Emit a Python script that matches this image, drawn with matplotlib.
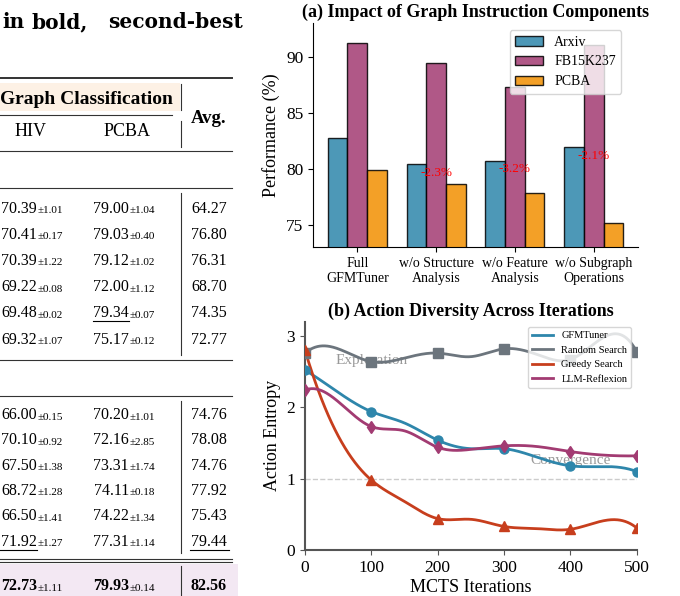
import numpy as np
import matplotlib
matplotlib.use('Agg')
import matplotlib.pyplot as plt
from matplotlib.lines import Line2D
from matplotlib.patches import Rectangle

plt.rcParams['font.family'] = ['Liberation Serif', 'DejaVu Serif']

# ---- (a) ablation of graph instruction components ----
components = ['Full\nGFMTuner', 'w/o Structure\nAnalysis',
              'w/o Feature\nAnalysis', 'w/o Subgraph\nOperations']
arxiv = [82.7, 80.4, 80.7, 81.9]
fb15k237 = [91.2, 89.4, 87.3, 91.0]
pcba = [79.9, 78.6, 77.8, 75.1]
drops = ['', '-2.3%', '-3.2%', '-2.1%']

# ---- (b) action entropy over MCTS iterations (markers every 100) ----
iters = [0, 50, 100, 150, 200, 250, 300, 350, 400, 450, 500]
gfmtuner = [2.52, 2.21, 1.94, 1.78, 1.54, 1.42, 1.42, 1.30, 1.18, 1.17, 1.10]
random_search = [2.76, 2.82, 2.64, 2.69, 2.76, 2.71, 2.82, 2.74, 2.67, 2.98, 2.78]
greedy = [2.80, 1.60, 0.98, 0.68, 0.44, 0.43, 0.33, 0.30, 0.29, 0.41, 0.31]
llm_reflexion = [2.24, 2.08, 1.73, 1.67, 1.44, 1.41, 1.46, 1.45, 1.38, 1.33, 1.32]

# ---- table fragment on the left ----
hiv_1 = [('70.39', '±1.01'), ('70.41', '±0.17'), ('70.39', '±1.22'),
         ('69.22', '±0.08'), ('69.48', '±0.02'), ('69.32', '±1.07')]
pcba_1 = [('79.00', '±1.04'), ('79.03', '±0.40'), ('79.12', '±1.02'),
          ('72.00', '±1.12'), ('79.34', '±0.07'), ('75.17', '±0.12')]
avg_1 = ['64.27', '76.80', '76.31', '68.70', '74.35', '72.77']
hiv_2 = [('66.00', '±0.15'), ('70.10', '±0.92'), ('67.50', '±1.38'),
         ('68.72', '±1.28'), ('66.50', '±1.41'), ('71.92', '±1.27')]
pcba_2 = [('70.20', '±1.01'), ('72.16', '±2.85'), ('73.31', '±1.74'),
          ('74.11', '±0.18'), ('74.22', '±1.34'), ('77.31', '±1.14')]
avg_2 = ['74.76', '78.08', '74.76', '77.92', '75.43', '79.44']
ours = [('72.73', '±1.11'), ('79.93', '±0.14'), '82.56']

C_BLUE, C_MAG, C_ORG, C_RED, C_GRAY = '#2E86AB', '#A23B72', '#F18F01', '#C73E1D', '#6C757D'

W, H = 680, 596
fig = plt.figure(figsize=(6.8, 5.96), dpi=100)


def smooth(x, y, n=400):
    # not-a-knot cubic spline through the points (equal spacing)
    x = np.asarray(x, float)
    y = np.asarray(y, float)
    m = len(x)
    h = x[1] - x[0]
    A = np.zeros((m, m))
    b = np.zeros(m)
    A[0, :3] = [1, -2, 1]
    A[-1, -3:] = [1, -2, 1]
    for i in range(1, m - 1):
        A[i, i - 1:i + 2] = [1, 4, 1]
        b[i] = 6 * (y[i - 1] - 2 * y[i] + y[i + 1]) / h ** 2
    M = np.linalg.solve(A, b)
    xs = np.linspace(x[0], x[-1], n)
    k = np.clip(((xs - x[0]) // h).astype(int), 0, m - 2)
    x0 = x[k]
    x1 = x0 + h
    ys = (M[k] * (x1 - xs) ** 3 + M[k + 1] * (xs - x0) ** 3) / (6 * h) \
        + (y[k] / h - M[k] * h / 6) * (x1 - xs) \
        + (y[k + 1] / h - M[k + 1] * h / 6) * (xs - x0)
    return xs, ys


# ---------------- table ----------------
def hline(y, x0, x1, lw=0.8, color='#333333'):
    fig.add_artist(Line2D([x0 / W, x1 / W], [1 - y / H, 1 - y / H], lw=lw, color=color))


def vline(x, y0, y1, lw=0.8, color='#333333'):
    fig.add_artist(Line2D([x / W, x / W], [1 - y0 / H, 1 - y1 / H], lw=lw, color=color))


def box(x0, y0, x1, y1, color):
    fig.add_artist(Rectangle((x0 / W, 1 - y1 / H), (x1 - x0) / W, (y1 - y0) / H,
                             facecolor=color, edgecolor='none', zorder=0))


def cell(xc, y, pair, bold=False):
    main, pm = pair
    fw = 'bold' if bold else 'normal'
    fig.text(xc / W, 1 - y / H, main, ha='right', va='center', fontsize=11.5, fontweight=fw)
    fig.text((xc + 0.5) / W, 1 - (y + 2) / H, pm, ha='left', va='center', fontsize=8)


for x, word in [(2, 'in'), (32, 'bold,'), (108, 'second-best')]:
    fig.text(x / W, 1 - 28 / H, word, ha='left', va='baseline', fontsize=14.5,
             fontweight='bold', family='DejaVu Serif')

box(0, 83, 180, 110.5, '#fdf1e5')
box(0, 564, 238, 596, '#f3e8f3')
hline(78, 0, 232, lw=1.4)
hline(114.5, 0, 172)
hline(151, 0, 232)
hline(187.5, 0, 232)
hline(360, 0, 232)
hline(396, 0, 232)
hline(558.5, 0, 232)
hline(561.5, 0, 232)
for y0, y1 in [(84, 110), (121, 147), (193, 355), (401, 553), (566, 596)]:
    vline(181.3, y0, y1)

fig.text(173 / W, 1 - 103.5 / H, 'Graph Classification', ha='right', va='baseline',
         fontsize=14, fontweight='bold')
fig.text(209 / W, 1 - 123 / H, 'Avg.', ha='center', va='baseline', fontsize=13.5, fontweight='bold')
fig.text(31 / W, 1 - 136 / H, 'HIV', ha='center', va='baseline', fontsize=13)
fig.text(127 / W, 1 - 136 / H, 'PCBA', ha='center', va='baseline', fontsize=13)

rows_1 = 208.5 + 26.2 * np.arange(6)
rows_2 = 415 + 25.3 * np.arange(6)
for y, a, b, c in zip(rows_1, hiv_1, pcba_1, avg_1):
    cell(37, y, a)
    cell(129, y, b)
    fig.text(209 / W, 1 - y / H, c, ha='center', va='center', fontsize=11.5)
for y, a, b, c in zip(rows_2, hiv_2, pcba_2, avg_2):
    cell(37, y, a)
    cell(129, y, b)
    fig.text(209 / W, 1 - y / H, c, ha='center', va='center', fontsize=11.5)
cell(37, 586.5, ours[0], bold=True)
cell(129, 586.5, ours[1], bold=True)
fig.text(209 / W, 1 - 586.5 / H, ours[2], ha='center', va='center', fontsize=11.5, fontweight='bold')
# second-best underlines
hline(rows_1[4] + 8, 93, 129, lw=0.8, color='black')
hline(rows_2[5] + 8, -1, 37, lw=0.8, color='black')
hline(rows_2[5] + 8, 190, 229, lw=0.8, color='black')

# ---------------- (a) bar chart ----------------
ax1 = fig.add_axes([313 / W, 1 - 247 / H, 325 / W, 224 / H])
x = np.arange(len(components))
w = 0.25
ax1.bar(x - w, arxiv, w, label='Arxiv', color=C_BLUE, alpha=0.85, edgecolor='black', linewidth=1)
ax1.bar(x, fb15k237, w, label='FB15K237', color=C_MAG, alpha=0.85, edgecolor='black', linewidth=1)
ax1.bar(x + w, pcba, w, label='PCBA', color=C_ORG, alpha=0.85, edgecolor='black', linewidth=1)
for i, d in enumerate(drops):
    if d:
        ax1.text(x[i], arxiv[i] - 0.75, d, ha='center', va='center', fontsize=9.5, color='red')
ax1.set_ylim(73, 93)
ax1.set_yticks([75, 80, 85, 90])
ax1.set_xticks(x)
ax1.set_xticklabels(components, fontsize=10)
ax1.tick_params(axis='y', labelsize=12.5)
ax1.set_ylabel('Performance (%)', fontsize=13)
ax1.set_title('(a) Impact of Graph Instruction Components', fontsize=13, fontweight='bold', pad=4.5)
ax1.spines['top'].set_visible(False)
ax1.spines['right'].set_visible(False)
ax1.legend(loc='upper right', bbox_to_anchor=(0.97, 1.0), fontsize=10)

# ---------------- (b) line chart ----------------
ax2 = fig.add_axes([305 / W, 1 - 550 / H, 331.7 / W, 228.3 / H])
series = [('GFMTuner', gfmtuner, C_BLUE, 'o'),
          ('Random Search', random_search, C_GRAY, 's'),
          ('Greedy Search', greedy, C_RED, '^'),
          ('LLM-Reflexion', llm_reflexion, C_MAG, 'd')]
for name, vals, col, mk in series:
    xs, ys = smooth(iters, vals)
    ax2.plot(xs, ys, color=col, lw=2, label=name, zorder=3)
    ax2.plot(iters[::2], vals[::2], linestyle='none', marker=mk, color=col,
             markersize=6.5, zorder=4)
ax2.axhline(1, color='gray', linestyle='--', lw=1, alpha=0.4, zorder=1)
ax2.text(100, 2.65, 'Exploration', ha='center', va='center', fontsize=11, color='gray',
         alpha=0.8, zorder=1)
ax2.text(400, 1.25, 'Convergence', ha='center', va='center', fontsize=11, color='gray',
         alpha=0.8, zorder=1)
ax2.set_xlim(0, 500)
ax2.set_ylim(0, 3.2)
ax2.set_xticks(iters[::2])
ax2.set_yticks([0, 1, 2, 3])
ax2.tick_params(labelsize=12.5, color='#555555')
ax2.set_xlabel('MCTS Iterations', fontsize=13, labelpad=2)
ax2.set_ylabel('Action Entropy', fontsize=13)
ax2.set_title('(b) Action Diversity Across Iterations', fontsize=13, fontweight='bold', pad=4.5)
for s in ['top', 'right']:
    ax2.spines[s].set_visible(False)
for s in ['left', 'bottom']:
    ax2.spines[s].set_color('#555555')
    ax2.spines[s].set_linewidth(1.5)
ax2.legend(loc='upper right', fontsize=7.5)

fig.savefig('out.png', dpi=100)
